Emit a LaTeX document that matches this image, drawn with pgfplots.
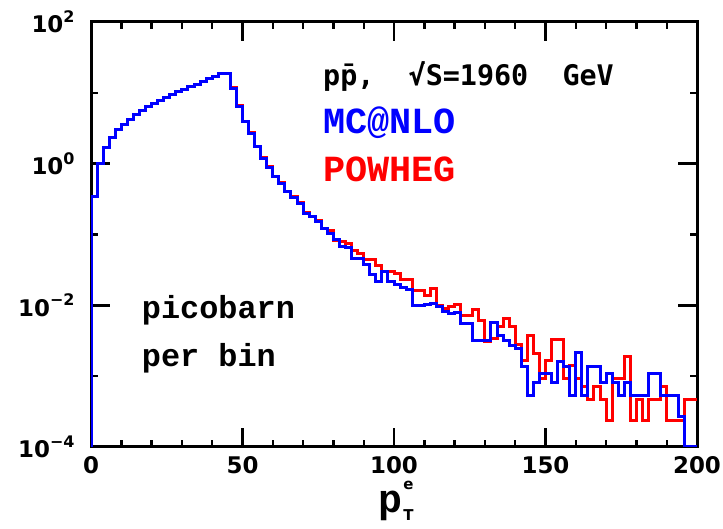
\documentclass[border=0pt]{standalone}
\usepackage{fontspec}
\usepackage{pgfplots}
\pgfplotsset{compat=1.18}
\newfontfamily\tickfont{DejaVu Sans}
\newfontfamily\dmono{DejaVu Sans Mono}
\newfontfamily\lmono{Liberation Mono}
\newcommand\tenp[1]{10\raisebox{0.45em}{\fontsize{16}{16}\selectfont #1}}
\begin{document}
\begin{tikzpicture}[x=1bp,y=1bp]
\path[use as bounding box] (0,0) rectangle (723,529);
\begin{axis}[
  at={(91bp,82bp)}, anchor=south west,
  width=606bp, height=425bp, scale only axis,
  xmin=0, xmax=200, ymin=1e-4, ymax=1e2, ymode=log,
  axis line style={line width=3bp},
  xtick={0,50,100,150,200}, minor xtick={10,20,30,40,60,70,80,90,110,120,130,140,160,170,180,190},
  ytick={1e-4,1e-2,1,1e2}, minor ytick={1e-3,1e-1,1e1},
  xticklabels={0,50,100,150,200},
  yticklabels={\tenp{−4},\tenp{−2},\tenp{0},\tenp{2}},
  tick style={black, line width=2.4bp},
  major tick length=19bp, minor tick length=7bp,
  tick align=inside,
  ticklabel style={font=\tickfont\bfseries\fontsize{23}{24}\selectfont},
  xticklabel style={yshift=-6bp},
  yticklabel style={xshift=-13bp},
]
\addplot[const plot mark left, red, line width=3bp] table {
x y
0 1e-4
0 0.34
2 1.01
4 1.70
6 2.36
8 2.99
10 3.6
12 4.27
14 4.98
16 5.72
18 6.37
20 7.11
22 7.75
24 8.53
26 9.41
28 10.3
30 11.2
32 12.2
34 13.3
36 14.6
38 15.7
40 17.1
42 18.9
44 18.6
46 11.8
48 6.6
50 4.0
52 2.75
54 1.75
56 1.22
58 0.90
60 0.66
62 0.54
64 0.41
66 0.34
68 0.28
70 0.205
72 0.18
74 0.157
76 0.12
78 0.113
80 0.082
82 0.079
84 0.075
86 0.059
88 0.054
90 0.0446
92 0.0446
94 0.036
96 0.030
98 0.030
100 0.0285
102 0.0228
104 0.0228
106 0.0163
108 0.0163
110 0.0139
112 0.0174
114 0.0101
116 0.0091
118 0.0096
120 0.0103
122 0.0071
124 0.0072
126 0.0086
128 0.0062
130 0.0031
132 0.0034
134 0.0050
136 0.0065
138 0.0050
140 0.00283
142 0.00165
144 0.00378
146 0.00212
148 0.00094
150 0.00165
152 0.0033
154 0.0033
156 0.00094
158 0.00142
160 0.00094
162 0.00071
164 0.00047
166 0.00071
168 0.00047
170 0.000236
172 0.00094
174 0.00094
176 0.00189
178 0.000236
180 0.00047
182 0.000236
184 0.00047
186 0.00047
188 0.00071
190 0.000236
192 0.000236
194 0.000236
196 0.00047
198 0.00047
200 0.00047
};
\addplot[const plot mark left, blue, line width=3bp] table {
x y
0 1e-4
0 0.34
2 1.01
4 1.70
6 2.36
8 2.99
10 3.6
12 4.27
14 4.98
16 5.72
18 6.37
20 7.11
22 7.75
24 8.53
26 9.41
28 10.3
30 11.2
32 12.2
34 13.3
36 14.6
38 15.7
40 17.1
42 18.9
44 18.6
46 11.6
48 6.5
50 3.95
52 2.69
54 1.72
56 1.2
58 0.89
60 0.655
62 0.53
64 0.40
66 0.335
68 0.275
70 0.20
72 0.178
74 0.151
76 0.122
78 0.102
80 0.086
82 0.068
84 0.066
86 0.046
88 0.046
90 0.038
92 0.027
94 0.0216
96 0.030
98 0.0216
100 0.0194
102 0.018
104 0.0165
106 0.0098
108 0.0098
110 0.0103
112 0.0107
114 0.0097
116 0.0081
118 0.0077
120 0.0079
122 0.0056
124 0.0055
126 0.00324
128 0.00324
130 0.00324
132 0.0057
134 0.00378
136 0.00324
138 0.0027
140 0.00243
142 0.00135
144 0.00054
146 0.00081
148 0.00108
150 0.00108
152 0.00081
154 0.00162
156 0.00135
158 0.00054
160 0.00216
162 0.00054
164 0.00135
166 0.00135
168 0.00081
170 0.00108
172 0.00081
174 0.00054
176 0.00081
178 0.00054
180 0.00054
182 0.00054
184 0.00108
186 0.00108
188 0.00054
190 0.00054
192 0.00054
194 0.00027
196 1e-4
198 1e-4
200 1e-4
};
\end{axis}
\node[anchor=base west, inner sep=0] at (323,443.5) {\dmono\bfseries\fontsize{28.5}{28.5}\selectfont pp\char"0304,\ \ √S=1960\ \ GeV};
\node[anchor=base west, inner sep=0, text=blue] at (323,395) {\lmono\bfseries\fontsize{37}{37}\selectfont MC@NLO};
\node[anchor=base west, inner sep=0, text=red] at (323,347) {\lmono\bfseries\fontsize{37}{37}\selectfont POWHEG};
\node[anchor=base west, inner sep=0] at (141.7,210) {\lmono\bfseries\fontsize{32}{32}\selectfont picobarn};
\node[anchor=base west, inner sep=0] at (141.7,162) {\lmono\bfseries\fontsize{32}{32}\selectfont per bin};
\node[anchor=base, inner sep=0] at (396,16) {\lmono\bfseries\fontsize{40}{40}\selectfont p\makebox[0pt][l]{\hspace{1bp}\raisebox{23bp}{\tickfont\bfseries\fontsize{15}{15}\selectfont e}}\hspace{1bp}\raisebox{-8bp}{\tickfont\bfseries\fontsize{15}{15}\selectfont T}};
\end{tikzpicture}
\end{document}
